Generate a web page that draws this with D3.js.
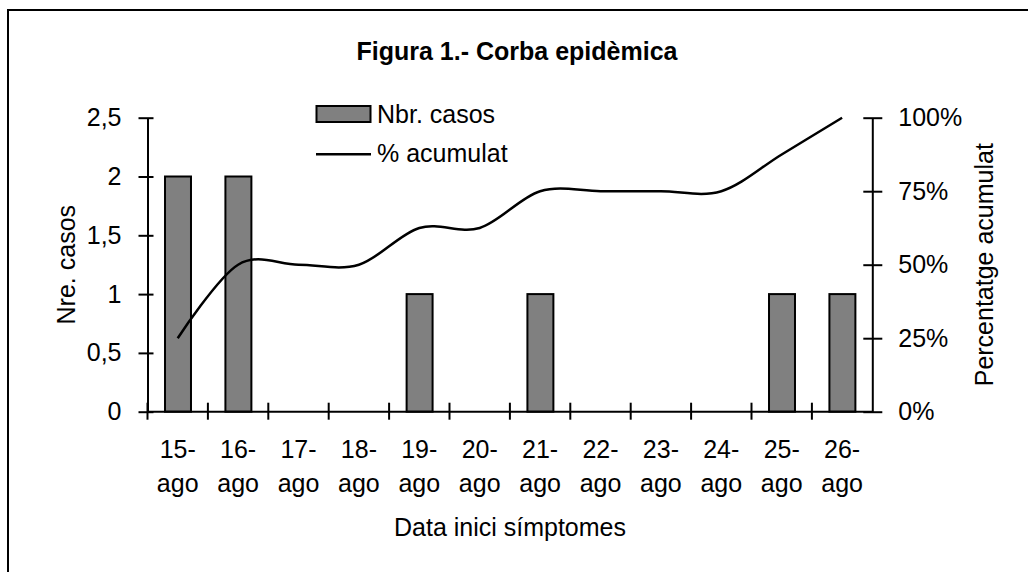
<!DOCTYPE html>
<html>
<head>
<meta charset="utf-8">
<script src="https://cdn.jsdelivr.net/npm/d3@7"></script>
<style>
  body { margin: 0; background: #fff; }
  svg text { font-family: "Liberation Sans", Arial, sans-serif; fill: #000; }
</style>
</head>
<body>
<script>
const dies = ['15-', '16-', '17-', '18-', '19-', '20-', '21-', '22-', '23-', '24-', '25-', '26-'];
const mes = 'ago';
const casos = [2, 2, 0, 0, 1, 0, 1, 0, 0, 0, 1, 1];
const acumulat = [25, 50, 50, 50, 62.5, 62.5, 75, 75, 75, 75, 87.5, 100];
const casosTicks = [0, 0.5, 1, 1.5, 2, 2.5];
const pctTicks = [0, 25, 50, 75, 100];

const width = 1028, height = 572;
const plotLeft = 147.5, plotRight = 872.3, plotTop = 117.7, plotBottom = 411.7;

const svg = d3.select('body').append('svg')
  .attr('width', width)
  .attr('height', height);

// marc exterior
svg.append('rect')
  .attr('x', 8).attr('y', 10)
  .attr('width', 1040).attr('height', 600)
  .style('fill', 'none')
  .style('stroke', '#000')
  .style('stroke-width', 2);

const x = d3.scaleBand().domain(dies).range([plotLeft, plotRight]);
const y = d3.scaleLinear().domain([0, 2.5]).range([plotBottom, plotTop]);
const y2 = d3.scaleLinear().domain([0, 100]).range([plotBottom, plotTop]);

// barres
svg.append('g').selectAll('rect')
  .data(casos)
  .join('rect')
  .attr('x', (d, i) => x(dies[i]) + x.bandwidth() * 0.29)
  .attr('y', d => y(d))
  .attr('width', x.bandwidth() * 0.43)
  .attr('height', d => plotBottom - y(d))
  .style('fill', '#808080')
  .style('stroke', '#000')
  .style('stroke-width', 2);

// eix esquerre
const gy = svg.append('g')
  .attr('transform', `translate(${plotLeft},0)`)
  .call(d3.axisLeft(y).tickValues(casosTicks)
    .tickFormat(d => String(d).replace('.', ','))
    .tickSizeOuter(0).tickPadding(20));
gy.selectAll('.tick line').attr('x1', 6).attr('x2', -9);

// eix dret
const gy2 = svg.append('g')
  .attr('transform', `translate(${plotRight},0)`)
  .call(d3.axisRight(y2).tickValues(pctTicks)
    .tickFormat(d => d + '%')
    .tickSizeOuter(0).tickPadding(20));
gy2.selectAll('.tick line').attr('x1', -9).attr('x2', 10);

// eix x
const gx = svg.append('g')
  .attr('transform', `translate(0,${plotBottom})`)
  .call(d3.axisBottom(x).tickSize(0).tickSizeOuter(0).tickPadding(0));
gx.selectAll('.tick text').remove();
gx.select('.domain').attr('d', `M${plotLeft},0H${plotRight}`);

// marques entre categories
svg.append('g').selectAll('line')
  .data(dies)
  .join('line')
  .attr('x1', d => x(d)).attr('x2', d => x(d))
  .attr('y1', plotBottom - 9).attr('y2', plotBottom + 8)
  .style('stroke', '#000').style('stroke-width', 2);

[gy, gy2, gx].forEach(g => {
  g.selectAll('.domain, .tick line').style('stroke', '#000').style('stroke-width', 2);
  g.selectAll('text').style('font-size', '25px').style('font-family', '"Liberation Sans", Arial, sans-serif');
});

// etiquetes x en dues línies
const lab = svg.append('g').selectAll('text')
  .data(dies)
  .join('text')
  .attr('text-anchor', 'middle')
  .style('font-size', '25px');
lab.append('tspan')
  .attr('x', d => x(d) + x.bandwidth() / 2)
  .attr('y', 457.7)
  .text(d => d);
lab.append('tspan')
  .attr('x', d => x(d) + x.bandwidth() / 2)
  .attr('y', 491.7)
  .text(mes);

// línia acumulada
const line = d3.line()
  .x((d, i) => x(dies[i]) + x.bandwidth() / 2)
  .y(d => y2(d))
  .curve(d3.curveCardinal.tension(0));

svg.append('path')
  .datum(acumulat)
  .attr('d', line)
  .style('fill', 'none')
  .style('stroke', '#000')
  .style('stroke-width', 2.5);

// títols
svg.append('text')
  .attr('x', 517).attr('y', 60)
  .attr('text-anchor', 'middle')
  .style('font-size', '25px')
  .style('font-weight', 'bold')
  .text('Figura 1.- Corba epidèmica');

svg.append('text')
  .attr('x', 510).attr('y', 536)
  .attr('text-anchor', 'middle')
  .style('font-size', '25px')
  .text('Data inici símptomes');

svg.append('text')
  .attr('transform', `translate(75,${(plotTop + plotBottom) / 2}) rotate(-90)`)
  .attr('text-anchor', 'middle')
  .style('font-size', '25px')
  .text('Nre. casos');

svg.append('text')
  .attr('transform', `translate(993,${(plotTop + plotBottom) / 2}) rotate(-90)`)
  .attr('text-anchor', 'middle')
  .style('font-size', '25px')
  .text('Percentatge acumulat');

// llegenda
const leg = svg.append('g');
leg.append('rect')
  .attr('x', 316.5).attr('y', 106)
  .attr('width', 54).attr('height', 16)
  .style('fill', '#808080')
  .style('stroke', '#000')
  .style('stroke-width', 2);
leg.append('text')
  .attr('x', 377).attr('y', 123)
  .style('font-size', '25px')
  .text('Nbr. casos');
leg.append('line')
  .attr('x1', 316).attr('x2', 371)
  .attr('y1', 154.3).attr('y2', 154.3)
  .style('stroke', '#000')
  .style('stroke-width', 2.5);
leg.append('text')
  .attr('x', 377).attr('y', 162)
  .style('font-size', '25px')
  .text('% acumulat');
</script>
</body>
</html>
